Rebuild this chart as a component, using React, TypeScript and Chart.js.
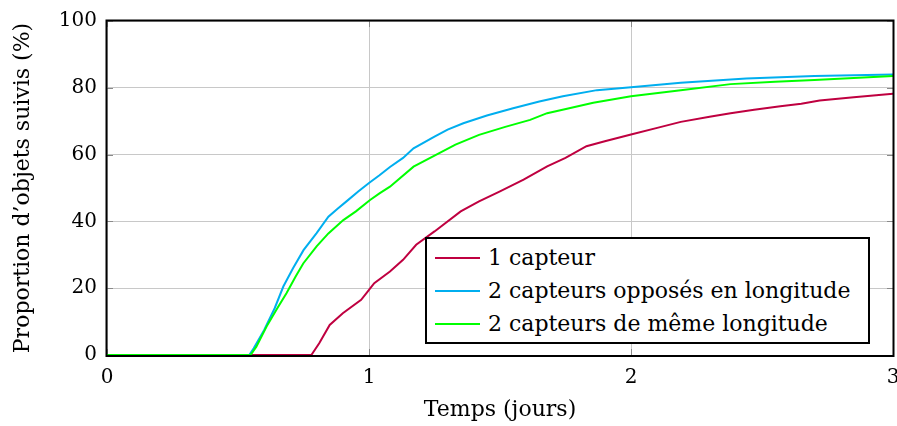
import React, { useEffect, useRef } from "react";
import { Chart, registerables } from "chart.js";

Chart.register(...registerables);

const SERIES_LABELS = [
  "1 capteur",
  "2 capteurs opposés en longitude",
  "2 capteurs de même longitude",
];
const SERIES_COLORS = ["#bf0040", "#00aeef", "#00ff00"];

// 1 capteur
const redX = [0, 0.78, 0.81, 0.85, 0.9, 0.97, 1.0, 1.02, 1.08, 1.13, 1.18, 1.25, 1.35, 1.42, 1.5, 1.59, 1.68, 1.75, 1.83, 1.9, 2.0, 2.1, 2.19, 2.3, 2.38, 2.47, 2.57, 2.65, 2.72, 2.85, 3.0];
const redY = [0, 0, 3.5, 9, 12.5, 16.5, 19.5, 21.5, 25, 28.5, 33, 37, 43, 46, 49, 52.5, 56.5, 59, 62.5, 64, 66, 68, 69.8, 71.3, 72.4, 73.4, 74.5, 75.2, 76.2, 77.2, 78.2];

// 2 capteurs opposés en longitude
const blueX = [0, 0.543, 0.56, 0.6, 0.64, 0.673, 0.71, 0.75, 0.8, 0.845, 0.88, 0.914, 0.96, 1.0, 1.04, 1.08, 1.13, 1.17, 1.25, 1.3, 1.36, 1.45, 1.55, 1.65, 1.74, 1.87, 2.0, 2.19, 2.44, 2.7, 3.0];
const blueY = [0, 0, 2, 7.5, 14, 20.5, 26, 31.4, 36.5, 41.4, 43.8, 46, 49, 51.5, 53.8, 56.3, 59, 61.9, 65.4, 67.5, 69.4, 71.7, 73.9, 75.9, 77.5, 79.3, 80.2, 81.5, 82.8, 83.5, 84];

// 2 capteurs de même longitude
const greenX = [0, 0.548, 0.57, 0.609, 0.65, 0.685, 0.72, 0.749, 0.8, 0.845, 0.902, 0.95, 1.004, 1.04, 1.08, 1.17, 1.25, 1.33, 1.42, 1.52, 1.615, 1.68, 1.76, 1.856, 2.0, 2.19, 2.38, 2.55, 2.7, 2.85, 3.0];
const greenY = [0, 0, 2.5, 8.5, 14, 18.5, 23.5, 27.4, 32.5, 36.4, 40.4, 43, 46.4, 48.4, 50.4, 56.4, 59.7, 63, 65.9, 68.3, 70.4, 72.4, 73.8, 75.5, 77.5, 79.3, 81.1, 81.8, 82.3, 82.9, 83.5];

const X_TICKS = [0, 1, 2, 3];
const Y_TICKS = [0, 20, 40, 60, 80, 100];
const X_TITLE = "Temps (jours)";
const Y_TITLE = "Proportion d’objets suivis (%)";

const FONT = '"DejaVu Serif", serif';

const toPoints = (xs: number[], ys: number[]) => xs.map((x, i) => ({ x, y: ys[i] }));

const framePlugin = {
  id: "frame",
  beforeDatasetsDraw(chart: any) {
    const { ctx, chartArea, scales } = chart;
    const { left, right, top, bottom } = chartArea;
    const L = 6;
    ctx.save();
    ctx.strokeStyle = "#8a8a8a";
    ctx.lineWidth = 1;
    ctx.beginPath();
    for (const v of Y_TICKS) {
      const py = Math.round(scales.y.getPixelForValue(v)) + 0.5;
      ctx.moveTo(left, py);
      ctx.lineTo(left + L, py);
      ctx.moveTo(right, py);
      ctx.lineTo(right - L, py);
    }
    for (const v of X_TICKS) {
      const px = Math.round(scales.x.getPixelForValue(v)) + 0.5;
      ctx.moveTo(px, bottom);
      ctx.lineTo(px, bottom - L);
      ctx.moveTo(px, top);
      ctx.lineTo(px, top + L);
    }
    ctx.stroke();
    ctx.restore();
  },
  afterDatasetsDraw(chart: any) {
    const { ctx, chartArea } = chart;
    const { left, right, top, bottom } = chartArea;
    ctx.save();
    ctx.strokeStyle = "#000";
    ctx.lineWidth = 2;
    ctx.strokeRect(left - 0.5, top - 0.5, right - left + 1, bottom - top + 1.5);
    ctx.restore();
  },
};

export default function App() {
  const canvasRef = useRef<HTMLCanvasElement | null>(null);

  useEffect(() => {
    document.body.style.margin = "0";
    const canvas = canvasRef.current;
    if (!canvas) return;
    const chart = new Chart(canvas, {
      type: "line",
      data: {
        datasets: [
          { label: SERIES_LABELS[0], data: toPoints(redX, redY), borderColor: SERIES_COLORS[0], order: 2 },
          { label: SERIES_LABELS[1], data: toPoints(blueX, blueY), borderColor: SERIES_COLORS[1], order: 1 },
          { label: SERIES_LABELS[2], data: toPoints(greenX, greenY), borderColor: SERIES_COLORS[2], order: 0 },
        ].map((d) => ({
          ...d,
          borderWidth: 2,
          pointRadius: 0,
          tension: 0,
          fill: false,
          clip: { left: 0, top: 0, right: 0, bottom: 3 },
        })),
      },
      options: {
        responsive: false,
        animation: false,
        layout: { padding: { top: 21, right: 4, left: 0, bottom: 0 } },
        plugins: { legend: { display: false }, tooltip: { enabled: false } },
        scales: {
          x: {
            type: "linear",
            min: 0,
            max: 3,
            afterBuildTicks: (scale: any) => {
              scale.ticks = X_TICKS.map((v) => ({ value: v }));
            },
            afterFit: (scale: any) => {
              scale.height = 71;
              scale.paddingLeft = 0;
              scale.paddingRight = 0;
            },
            ticks: { color: "#000", padding: 11, font: { family: FONT, size: 20 }, maxRotation: 0 },
            grid: { color: "#c8c8c8", lineWidth: 1, drawTicks: false },
            border: { display: false },
            title: {
              display: true,
              text: X_TITLE,
              color: "#000",
              font: { family: FONT, size: 22 },
              padding: { top: 0, bottom: 3 },
            },
          },
          y: {
            type: "linear",
            min: 0,
            max: 100,
            afterBuildTicks: (scale: any) => {
              scale.ticks = Y_TICKS.map((v) => ({ value: v }));
            },
            afterFit: (scale: any) => {
              scale.width = 107;
              scale.paddingTop = 0;
              scale.paddingBottom = 0;
            },
            ticks: { color: "#000", padding: 10, font: { family: FONT, size: 20 } },
            grid: { color: "#c8c8c8", lineWidth: 1, drawTicks: false },
            border: { display: false },
            title: {
              display: true,
              text: Y_TITLE,
              color: "#000",
              font: { family: FONT, size: 22 },
              padding: { top: 10, bottom: 0 },
            },
          },
        },
      },
      plugins: [framePlugin],
    } as any);
    return () => chart.destroy();
  }, []);

  return (
    <div style={{ position: "relative", width: 897, height: 426, background: "#fff" }}>
      <canvas ref={canvasRef} width={897} height={426} style={{ display: "block" }} />
      <div
        style={{
          position: "absolute",
          left: 425,
          top: 237,
          width: 445,
          height: 107,
          boxSizing: "border-box",
          border: "2px solid #000",
          background: "#fff",
          padding: "2px 0 0 8px",
          fontFamily: FONT,
          fontSize: 22,
          color: "#000",
        }}
      >
        {SERIES_LABELS.map((label, i) => (
          <div
            key={label}
            style={{ display: "flex", alignItems: "center", height: 33, whiteSpace: "nowrap" }}
          >
            <span
              style={{
                display: "inline-block",
                width: 45,
                height: 2,
                background: SERIES_COLORS[i],
                marginRight: 8,
                flex: "none",
              }}
            />
            <span>{label}</span>
          </div>
        ))}
      </div>
    </div>
  );
}
